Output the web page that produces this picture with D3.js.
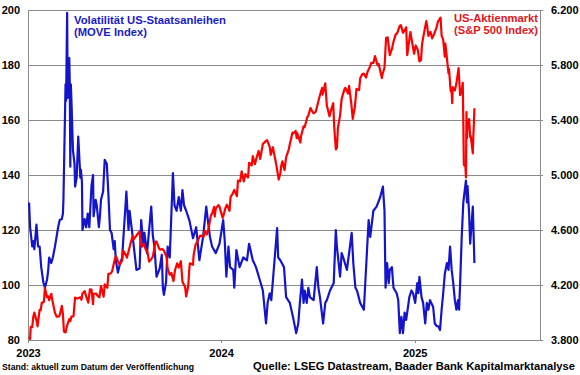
<!DOCTYPE html>
<html><head><meta charset="utf-8">
<script src="https://cdn.jsdelivr.net/npm/d3@7"></script>
<style>
body{margin:0;background:#fff}
svg{display:block}
text{font-family:"Liberation Sans",Arial,sans-serif;font-weight:bold}
</style>
</head><body>
<svg id="chart" width="580" height="375"></svg>
<script>
// ---------- DATA ----------
const moveDates = [
"2023-01-03","2023-01-05","2023-01-09","2023-01-11","2023-01-13","2023-01-17","2023-01-20","2023-01-23","2023-01-26","2023-01-30",
"2023-02-02","2023-02-06","2023-02-08","2023-02-10","2023-02-14","2023-02-17","2023-02-21","2023-02-24","2023-02-27","2023-03-02",
"2023-03-06","2023-03-08","2023-03-09","2023-03-13","2023-03-14","2023-03-16","2023-03-17","2023-03-20","2023-03-21","2023-03-22",
"2023-03-23","2023-03-24","2023-03-27","2023-03-30","2023-03-31","2023-04-03","2023-04-06","2023-04-10","2023-04-11","2023-04-13",
"2023-04-14","2023-04-18","2023-04-21","2023-04-24","2023-04-27","2023-05-01","2023-05-04","2023-05-05","2023-05-09","2023-05-11",
"2023-05-15","2023-05-17","2023-05-19","2023-05-23","2023-05-26","2023-05-30","2023-06-02","2023-06-05","2023-06-08","2023-06-12",
"2023-06-14","2023-06-16","2023-06-20","2023-06-23","2023-06-28","2023-07-06","2023-07-10","2023-07-12","2023-07-18","2023-07-25",
"2023-07-31","2023-08-03","2023-08-07","2023-08-09","2023-08-14","2023-08-18","2023-08-22","2023-08-25","2023-08-28","2023-09-01",
"2023-09-07","2023-09-11","2023-09-13","2023-09-15","2023-09-19","2023-09-22","2023-09-26","2023-10-02","2023-10-05","2023-10-09",
"2023-10-13","2023-10-17","2023-10-20","2023-10-23","2023-10-27","2023-11-02","2023-11-09","2023-11-15","2023-11-17","2023-11-21",
"2023-11-28","2023-12-04","2023-12-07","2023-12-11","2023-12-15","2023-12-22","2023-12-29",
"2024-01-05","2024-01-08","2024-01-11","2024-01-15","2024-01-18","2024-01-24","2024-01-26","2024-01-30","2024-02-05","2024-02-12",
"2024-02-19","2024-02-23","2024-03-01","2024-03-07","2024-03-14","2024-03-20","2024-03-26","2024-03-29","2024-04-02","2024-04-05",
"2024-04-09","2024-04-16","2024-04-18","2024-04-22","2024-04-29","2024-05-03","2024-05-10","2024-05-16","2024-05-22","2024-05-26",
"2024-05-29","2024-06-02","2024-06-05","2024-06-07","2024-06-11","2024-06-14","2024-06-17","2024-06-24","2024-06-30","2024-07-03",
"2024-07-06","2024-07-12","2024-07-16","2024-07-19","2024-07-25","2024-08-01","2024-08-05","2024-08-07","2024-08-13","2024-08-16",
"2024-08-19","2024-08-26","2024-09-04","2024-09-07","2024-09-11","2024-09-14","2024-09-20","2024-09-27","2024-09-30","2024-10-06",
"2024-10-09","2024-10-15","2024-10-21","2024-10-28","2024-11-02","2024-11-05","2024-11-07","2024-11-10","2024-11-13","2024-11-15",
"2024-11-19","2024-11-22","2024-11-28","2024-12-01","2024-12-04","2024-12-07","2024-12-10","2024-12-13","2024-12-16","2024-12-22",
"2024-12-26","2024-12-29",
"2025-01-02","2025-01-06","2025-01-08","2025-01-10","2025-01-14","2025-01-17","2025-01-21","2025-01-24","2025-01-27","2025-01-30",
"2025-02-05","2025-02-08","2025-02-12","2025-02-15","2025-02-18","2025-02-21","2025-02-24","2025-02-27","2025-03-03","2025-03-06",
"2025-03-09","2025-03-12","2025-03-15","2025-03-18","2025-03-21","2025-03-24","2025-03-26","2025-03-28","2025-03-31","2025-04-03",
"2025-04-08","2025-04-10","2025-04-11","2025-04-14","2025-04-16","2025-04-21","2025-04-24"
];
const moveValues = [
130,121,114,116,113,122,114,114,106.5,101,
99,102,105,110,108,110,114,117.5,121,123.6,
124,126,131,173,167,199,168,182.5,173,143,
173,168,149,144,135.8,139,154,139,142,137.5,
120,124,121,126,121,136,140,125,131,129,
121,125,131,134,145.5,144,133,120,119,113,
116,109,104.5,107,110,134,120,127,117.5,105.5,
106,123.6,115,119,111.6,120,128.5,118,114,103,
106,111,99,96.4,101,114,110,140.7,129,127,
132,127,134.5,129,127,123.6,117,121,117,109,
117.5,128.5,123.6,117.5,114,111.6,115,
123.6,116,103,114,106.5,105.5,99,112.7,106.5,110,
109,115,109,106.5,102,98,86,93.5,97,94.5,
104,120.7,110,109,106.5,95.6,93.5,88.4,82.5,86,
93.5,102,93.5,98,93.5,99,95.6,94.5,106.5,99,
95.6,86,93.5,94.5,98,100.7,120,114,103,111.6,
110,105.5,119,108,99,98,93.5,91,102,123.6,
117.5,127,128.5,132,135.8,127,99,108,100.7,105.5,
106.5,99,97,94.5,82.5,88.4,82.5,90,87.3,95.6,
98,97,
93.5,100.7,97,103,95.6,93.5,86,93.5,91,94.5,
92,86,85,85,83.6,91,97,104,108,105.5,
114,105.5,100.7,94.5,91,94.5,91,100.7,117.5,130,
138,130,136,126,115,128.5,108
];

const spxDates = [
"2023-01-03","2023-01-05","2023-01-06","2023-01-09","2023-01-11","2023-01-13","2023-01-18","2023-01-19","2023-01-23","2023-01-25",
"2023-01-27","2023-01-31","2023-02-02","2023-02-06","2023-02-08","2023-02-10","2023-02-14","2023-02-16","2023-02-21","2023-02-24",
"2023-02-28","2023-03-02","2023-03-06","2023-03-08","2023-03-10","2023-03-13","2023-03-15","2023-03-17","2023-03-20","2023-03-22",
"2023-03-24","2023-03-28","2023-03-31","2023-04-04","2023-04-06","2023-04-10","2023-04-12","2023-04-14","2023-04-18","2023-04-20",
"2023-04-25","2023-04-28","2023-05-01","2023-05-04","2023-05-05","2023-05-10","2023-05-12","2023-05-16","2023-05-19","2023-05-24",
"2023-05-26","2023-05-31","2023-06-02","2023-06-06","2023-06-09","2023-06-13","2023-06-16","2023-06-21","2023-06-23","2023-06-28",
"2023-06-30","2023-07-06","2023-07-07","2023-07-12","2023-07-14","2023-07-18","2023-07-20","2023-07-24","2023-07-26","2023-07-31",
"2023-08-02","2023-08-04","2023-08-08","2023-08-11","2023-08-15","2023-08-18","2023-08-22","2023-08-25","2023-08-30","2023-09-01",
"2023-09-06","2023-09-08","2023-09-12","2023-09-15","2023-09-20","2023-09-22","2023-09-26","2023-09-29","2023-10-03","2023-10-06",
"2023-10-10","2023-10-13","2023-10-17","2023-10-20","2023-10-25","2023-10-27","2023-10-31","2023-11-02","2023-11-03","2023-11-09",
"2023-11-10","2023-11-14","2023-11-17","2023-11-22","2023-11-24","2023-11-29","2023-12-01","2023-12-05","2023-12-08","2023-12-13",
"2023-12-15","2023-12-19","2023-12-20","2023-12-22","2023-12-27","2023-12-29",
"2024-01-04","2024-01-05","2024-01-09","2024-01-12","2024-01-17","2024-01-19","2024-01-23","2024-01-26","2024-01-31","2024-02-02",
"2024-02-06","2024-02-09","2024-02-13","2024-02-16","2024-02-21","2024-02-23","2024-02-28","2024-03-01","2024-03-05","2024-03-08",
"2024-03-12","2024-03-15","2024-03-20","2024-03-22","2024-03-28","2024-04-02","2024-04-04","2024-04-08","2024-04-10","2024-04-12",
"2024-04-15","2024-04-19","2024-04-22","2024-04-24","2024-04-26","2024-04-30","2024-05-03","2024-05-08","2024-05-10","2024-05-15",
"2024-05-17","2024-05-21","2024-05-23","2024-05-24","2024-05-30","2024-05-31","2024-06-05","2024-06-07","2024-06-12","2024-06-14",
"2024-06-18","2024-06-21","2024-06-24","2024-06-28","2024-07-03","2024-07-05","2024-07-10","2024-07-11","2024-07-16","2024-07-19",
"2024-07-24","2024-07-26","2024-07-31","2024-08-02","2024-08-05","2024-08-07","2024-08-09","2024-08-13","2024-08-16","2024-08-21",
"2024-08-23","2024-08-28","2024-08-30","2024-09-03","2024-09-06","2024-09-10","2024-09-13","2024-09-18","2024-09-20","2024-09-24",
"2024-09-27","2024-10-01","2024-10-04","2024-10-09","2024-10-11","2024-10-15","2024-10-18","2024-10-23","2024-10-25","2024-10-31",
"2024-11-01","2024-11-05","2024-11-08","2024-11-11","2024-11-15","2024-11-19","2024-11-22","2024-11-26","2024-11-29","2024-12-04",
"2024-12-06","2024-12-10","2024-12-13","2024-12-16","2024-12-18","2024-12-20","2024-12-24","2024-12-27","2024-12-31",
"2025-01-03","2025-01-07","2025-01-10","2025-01-13","2025-01-15","2025-01-17","2025-01-23","2025-01-24","2025-01-27","2025-01-31",
"2025-02-03","2025-02-07","2025-02-11","2025-02-14","2025-02-19","2025-02-21","2025-02-24","2025-02-27","2025-02-28","2025-03-03",
"2025-03-06","2025-03-07","2025-03-10","2025-03-12","2025-03-13","2025-03-14","2025-03-18","2025-03-21","2025-03-25","2025-03-28",
"2025-03-31","2025-04-02","2025-04-03","2025-04-04","2025-04-07","2025-04-08","2025-04-09","2025-04-10","2025-04-11","2025-04-14",
"2025-04-16","2025-04-17","2025-04-21","2025-04-22","2025-04-23","2025-04-24"
];
const spxValues = [
3824,3808,3895,3893,3969,3999,3928,3899,4019,4017,
4070,4077,4179,4111,4118,4090,4136,4090,3997,3970,
3970,3981,4048,3992,3861,3855,3892,3917,3952,3937,
3971,3971,4109,4101,4105,4110,4092,4138,4155,4130,
4072,4169,4167,4061,4136,4138,4124,4110,4192,4115,
4205,4180,4282,4283,4299,4369,4410,4366,4348,4377,
4450,4411,4399,4473,4505,4555,4535,4554,4566,4589,
4513,4478,4499,4464,4437,4370,4388,4406,4515,4516,
4465,4457,4462,4450,4402,4320,4274,4288,4229,4309,
4358,4327,4373,4224,4186,4117,4194,4318,4358,4347,
4415,4496,4514,4557,4559,4551,4595,4567,4604,4708,
4719,4768,4698,4755,4781,4770,
4688,4697,4757,4784,4739,4840,4865,4891,4846,4959,
4954,5027,4953,5006,4982,5089,5070,5137,5079,5124,
5175,5117,5225,5234,5254,5205,5147,5202,5161,5123,
5061,4967,5011,5071,5100,5036,5128,5187,5223,5308,
5303,5321,5268,5305,5236,5278,5354,5347,5421,5432,
5487,5465,5448,5460,5537,5567,5633,5585,5667,5505,
5427,5459,5522,5346,5186,5199,5344,5434,5554,5621,
5634,5592,5648,5528,5408,5496,5626,5618,5703,5733,
5738,5709,5751,5792,5815,5815,5865,5797,5808,5705,
5729,5782,5996,6001,5871,5917,5969,6021,6032,6086,
6090,6034,6051,6074,5872,5931,6040,5971,5882,
5942,5909,5827,5836,5950,5997,6119,6101,6012,6041,
5994,6026,6068,6115,6144,6013,5983,5861,5955,5850,
5739,5770,5615,5599,5522,5639,5615,5667,5777,5581,
5612,5671,5397,5074,5062,4982,5457,5268,5363,5406,
5276,5283,5158,5288,5376,5485
];

const leftTicks = [80,100,120,140,160,180,200];
const rightTicks = [3800,4200,4600,5000,5400,5800,6200];
const rightTickLabels = ["3.800","4.200","4.600","5.000","5.400","5.800","6.200"];
const yearTicks = ["2023-01-01","2024-01-01","2025-01-01"];
const yearLabels = ["2023","2024","2025"];
const xDomain = ["2023-01-01","2025-08-26"];

// ---------- CHART ----------
const parse = d3.utcParse("%Y-%m-%d");
const svg = d3.select("#chart");
const L = 28, R = 540, T = 10, B = 340;
const grid = "#8a8a8a";
const blue = "#1414cc", red = "#ff0000";
const FONT = '"Liberation Sans", Arial, sans-serif';

const x = d3.scaleUtc().domain(xDomain.map(parse)).range([L, R]);
const yL = d3.scaleLinear().domain([80, 200]).range([B, T]);
const yR = d3.scaleLinear().domain([3800, 6200]).range([B, T]);

// gridlines
svg.append("g").selectAll("line").data(leftTicks).join("line")
  .attr("x1", L).attr("x2", R)
  .attr("y1", d => yL(d)).attr("y2", d => yL(d))
  .attr("stroke", grid).attr("stroke-width", 1).attr("shape-rendering", "crispEdges");

function styleAxis(g) {
  g.select(".domain").attr("stroke", grid).attr("shape-rendering", "crispEdges");
  g.selectAll(".tick line").attr("stroke", grid).attr("shape-rendering", "crispEdges");
  g.selectAll("text").attr("font-size", 11).attr("fill", "#000")
    .attr("font-family", FONT).attr("font-weight", "bold");
}

// left axis
svg.append("g").attr("transform", `translate(${L},0)`)
  .call(d3.axisLeft(yL).tickValues(leftTicks).tickSize(0).tickPadding(8))
  .call(styleAxis);

// right axis
svg.append("g").attr("transform", `translate(${R},0)`)
  .call(d3.axisRight(yR).tickValues(rightTicks).tickSize(3).tickPadding(8)
    .tickFormat((d, i) => rightTickLabels[i]))
  .call(styleAxis);

// bottom axis
svg.append("g").attr("transform", `translate(0,${B})`)
  .call(d3.axisBottom(x).tickValues(yearTicks.map(parse)).tickSize(3).tickPadding(6)
    .tickFormat((d, i) => yearLabels[i]).tickSizeOuter(0))
  .call(styleAxis);

// lines
const moveData = moveDates.map((d, i) => ({ date: parse(d), v: moveValues[i] }));
const spxData = spxDates.map((d, i) => ({ date: parse(d), v: spxValues[i] }));

svg.append("path").datum(moveData)
  .attr("fill", "none").attr("stroke", blue).attr("stroke-width", 2.2)
  .attr("stroke-linejoin", "round")
  .attr("d", d3.line().x(d => x(d.date)).y(d => yL(d.v)));

svg.append("path").datum(spxData)
  .attr("fill", "none").attr("stroke", red).attr("stroke-width", 2.2)
  .attr("stroke-linejoin", "round")
  .attr("d", d3.line().x(d => x(d.date)).y(d => yR(d.v)));

// series labels
const lab = svg.append("g").attr("font-size", 11.5);
lab.append("text").attr("x", 74).attr("y", 24).attr("fill", "#1a1ac8")
  .attr("textLength", 152).attr("lengthAdjust", "spacingAndGlyphs")
  .text("Volatilität US-Staatsanleihen");
lab.append("text").attr("x", 74).attr("y", 36).attr("fill", "#1a1ac8")
  .attr("textLength", 73).attr("lengthAdjust", "spacingAndGlyphs")
  .text("(MOVE Index)");
lab.append("text").attr("x", 538).attr("y", 22).attr("fill", "#e3141c")
  .attr("text-anchor", "end")
  .attr("textLength", 84).attr("lengthAdjust", "spacingAndGlyphs")
  .text("US-Aktienmarkt");
lab.append("text").attr("x", 538).attr("y", 34).attr("fill", "#e3141c")
  .attr("text-anchor", "end")
  .attr("textLength", 84).attr("lengthAdjust", "spacingAndGlyphs")
  .text("(S&P 500 Index)");

// footer
svg.append("text").attr("x", 2).attr("y", 370).attr("font-size", 9).attr("fill", "#000")
  .attr("textLength", 192).attr("lengthAdjust", "spacingAndGlyphs")
  .text("Stand: aktuell zum Datum der Veröffentlichung");
svg.append("text").attr("x", 575).attr("y", 369.5).attr("font-size", 11.2).attr("fill", "#000")
  .attr("text-anchor", "end")
  .text("Quelle: LSEG Datastream, Baader Bank Kapitalmarktanalyse");
</script>
</body></html>
